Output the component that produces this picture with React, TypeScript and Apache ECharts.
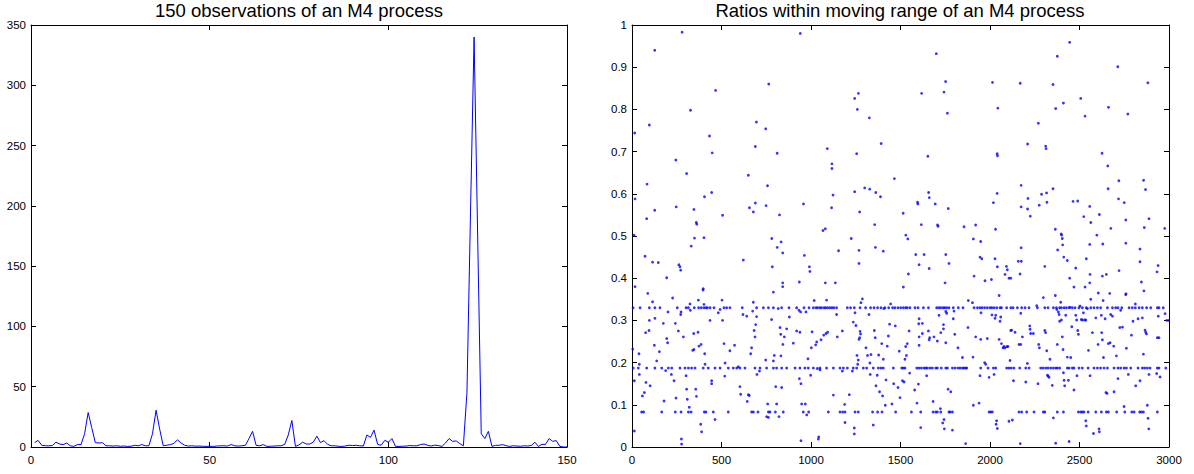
import React, { useEffect, useRef } from "react";
import * as echarts from "echarts";

const leftTitle = "150 observations of an M4 process";
const rightTitle = "Ratios within moving range of an M4 process";

// M4 process observations, x = 1..150
const obsValues = [
  3.6, 5.5, 1.4, 1, 1, 1.2, 4, 2.5, 2, 3.3, 1, 0.5, 2, 2, 11, 28.6, 16, 3.6, 3.3, 3.6,
  1, 1, 0.8, 1, 0.6, 0.8, 0.5, 0.6, 1.4, 1, 2, 1, 1, 11, 30.5, 15, 1, 1.5, 2, 3,
  6, 3.3, 1.4, 0.8, 1, 0.7, 0.8, 0.6, 0.5, 0.6, 0.5, 0.8, 1, 1, 0.8, 2, 1, 0.8, 1, 1.4,
  7, 13, 1.4, 1, 2, 0.5, 0.6, 0.8, 1, 1, 2.2, 10, 22, 0.5, 1.7, 4, 2.5, 2.5, 4, 9,
  3.6, 5.3, 2.2, 1, 1, 0.6, 0.5, 0.8, 1.5, 1.2, 1.4, 1, 0.8, 10, 8, 14, 2.2, 1.4, 5.5, 4,
  7, 0.5, 0.5, 0.6, 0.8, 1.2, 1, 1, 2, 2.5, 1.4, 0.8, 1.5, 1.2, 0.5, 3.3, 7, 4.7, 5, 2.8,
  1, 45, 195, 340, 175, 11, 7, 13, 0.5, 1.4, 1.4, 2, 1, 0.5, 1, 0.8, 0.6, 1, 0.8, 1.2,
  4, 0.5, 2.2, 2.2, 7, 4.7, 5.3, 0.5, 0, 0,
];

// ratio points lying on the three recurring levels
const levelHigh = 0.33;
const levelMid = 0.187;
const levelLow = 0.083;
const levelHighX = [
  6, 45, 97, 128, 156, 253, 302, 315, 348, 372, 387, 402, 413, 421, 436, 458, 514, 529, 547, 616,
  696, 734, 762, 790, 836, 877, 920, 961, 989, 1013, 1028, 1037, 1050, 1059, 1073, 1082, 1093, 1106, 1117, 1128,
  1143, 1203, 1221, 1242, 1274, 1305, 1333, 1352, 1372, 1391, 1413, 1434, 1456, 1469, 1486, 1501, 1516, 1529, 1538, 1553,
  1581, 1598, 1628, 1656, 1702, 1714, 1725, 1738, 1747, 1758, 1771, 1795, 1823, 1849, 1911, 1930, 1944, 1956, 1970, 1985,
  2000, 2010, 2023, 2038, 2056, 2064, 2093, 2116, 2129, 2153, 2177, 2196, 2218, 2265, 2306, 2324, 2354, 2371, 2389, 2399,
  2414, 2427, 2442, 2460, 2475, 2497, 2516, 2538, 2563, 2581, 2600, 2618, 2656, 2684, 2702, 2715, 2736, 2777, 2795, 2812,
  2833, 2851, 2875, 2898, 2935, 2944, 2968,
];
const levelMidX = [
  7, 35, 82, 128, 166, 203, 222, 268, 296, 315, 333, 352, 398, 426, 464, 492, 538, 566, 585, 603,
  631, 687, 715, 752, 790, 808, 836, 864, 911, 938, 966, 985, 1013, 1050, 1087, 1125, 1162, 1181, 1203, 1236,
  1255, 1292, 1311, 1348, 1376, 1391, 1404, 1460, 1507, 1516, 1525, 1591, 1604, 1617, 1632, 1641, 1650, 1665, 1678, 1697,
  1706, 1728, 1753, 1762, 1790, 1805, 1821, 1833, 1846, 1855, 1864, 1870, 1948, 1989, 2019, 2032, 2093, 2106, 2119, 2134,
  2166, 2200, 2218, 2283, 2296, 2311, 2324, 2339, 2354, 2367, 2376, 2389, 2432, 2442, 2460, 2469, 2497, 2516, 2548, 2581,
  2600, 2618, 2637, 2656, 2693, 2715, 2730, 2749, 2762, 2786, 2827, 2851, 2864, 2879, 2894, 2935, 2944, 2982,
];
const levelLowX = [
  54, 65, 166, 242, 274, 315, 330, 404, 413, 454, 538, 668, 678, 704, 762, 771, 801, 845, 957, 987,
  1097, 1162, 1177, 1190, 1246, 1264, 1344, 1372, 1397, 1473, 1561, 1613, 1682, 1697, 1706, 1725, 1771, 1777, 1790, 1995,
  2004, 2013, 2162, 2177, 2205, 2246, 2298, 2306, 2376, 2410, 2494, 2507, 2516, 2525, 2548, 2591, 2622, 2650, 2661, 2708,
  2753, 2792, 2805, 2836, 2846, 2857, 2935,
];

// scattered ratio points above about 0.47
const upperPoints = [
  [15, 0.744], [17, 0.588], [11, 0.502], [84, 0.623], [82, 0.541], [97, 0.763], [127, 0.94], [127, 0.561], [245, 0.68], [247, 0.569],
  [280, 0.983], [305, 0.648], [327, 0.798], [331, 0.476], [346, 0.563], [359, 0.532], [362, 0.528], [349, 0.495], [405, 0.593], [402, 0.496],
  [433, 0.737], [448, 0.697], [445, 0.603], [467, 0.845], [506, 0.549], [650, 0.644], [656, 0.567], [678, 0.557], [689, 0.578], [695, 0.77],
  [689, 0.712], [747, 0.754], [749, 0.572], [757, 0.619], [764, 0.86], [781, 0.494], [811, 0.696], [811, 0.473], [824, 0.55], [833, 0.486],
  [940, 0.98], [958, 0.576], [1067, 0.513], [1080, 0.517], [1091, 0.707], [1117, 0.671], [1117, 0.66], [1123, 0.597], [1115, 0.567], [1225, 0.494],
  [1244, 0.826], [1265, 0.838], [1259, 0.8], [1255, 0.695], [1244, 0.605], [1272, 0.557], [1326, 0.78], [1300, 0.614], [1328, 0.611], [1362, 0.603],
  [1388, 0.593], [1356, 0.527], [1360, 0.473], [1392, 0.719], [1466, 0.636], [1515, 0.554], [1530, 0.502], [1541, 0.493], [1595, 0.58], [1597, 0.576],
  [1616, 0.527], [1618, 0.838], [1653, 0.689], [1657, 0.603], [1661, 0.591], [1700, 0.932], [1694, 0.576], [1707, 0.526], [1710, 0.523], [1743, 0.841],
  [1752, 0.866], [1762, 0.791], [1767, 0.565], [1855, 0.522], [1920, 0.526], [1907, 0.493], [1948, 0.487], [2014, 0.864], [2019, 0.579], [2044, 0.803],
  [2040, 0.695], [2042, 0.69], [2040, 0.601], [2031, 0.516], [2169, 0.862], [2174, 0.62], [2174, 0.569], [2174, 0.472], [2210, 0.718], [2212, 0.589],
  [2210, 0.564], [2225, 0.547], [2270, 0.767], [2275, 0.573], [2288, 0.599], [2316, 0.602], [2318, 0.58], [2311, 0.713], [2313, 0.707], [2352, 0.859],
  [2376, 0.926], [2367, 0.802], [2410, 0.815], [2352, 0.612], [2365, 0.516], [2378, 0.467], [2398, 0.505], [2400, 0.502], [2404, 0.494], [2406, 0.479],
  [2445, 0.959], [2464, 0.582], [2490, 0.583], [2507, 0.826], [2531, 0.784], [2524, 0.546], [2557, 0.57], [2563, 0.532], [2557, 0.48], [2597, 0.502],
  [2611, 0.551], [2626, 0.696], [2630, 0.481], [2658, 0.666], [2660, 0.612], [2662, 0.805], [2675, 0.518], [2714, 0.901], [2720, 0.631], [2718, 0.588],
  [2750, 0.579], [2759, 0.538], [2759, 0.483], [2770, 0.789], [2838, 0.469], [2858, 0.632], [2869, 0.61], [2862, 0.52], [2888, 0.541], [2882, 0.863],
  [2976, 0.518],
];

// scattered ratio points below about 0.47
const lowerPoints = [
  [4, 0.232], [13, 0.157], [17, 0.38], [13, 0.038], [39, 0.221], [41, 0.172], [41, 0.196], [58, 0.121], [69, 0.129], [76, 0.271],
  [78, 0.153], [88, 0.364], [95, 0.276], [97, 0.3], [101, 0.145], [115, 0.344], [125, 0.241], [128, 0.305], [138, 0.204], [153, 0.226],
  [175, 0.293], [179, 0.109], [188, 0.181], [194, 0.257], [199, 0.247], [201, 0.32], [220, 0.172], [227, 0.353], [235, 0.157], [242, 0.293],
  [246, 0.116], [259, 0.275], [272, 0.314], [274, 0.32], [276, 0.019], [277, 0.007], [287, 0.261], [302, 0.169], [305, 0.137], [309, 0.113],
  [320, 0.094], [324, 0.339], [326, 0.324], [339, 0.229], [345, 0.269], [356, 0.137], [360, 0.12], [346, 0.231], [371, 0.348], [369, 0.272],
  [374, 0.239], [386, 0.243], [384, 0.054], [389, 0.036], [397, 0.372], [402, 0.338], [406, 0.221], [408, 0.196], [436, 0.3], [445, 0.157],
  [445, 0.15], [464, 0.065], [482, 0.318], [492, 0.326], [503, 0.348], [506, 0.3], [514, 0.245], [518, 0.168], [520, 0.199], [547, 0.228],
  [573, 0.241], [594, 0.19], [603, 0.143], [607, 0.125], [620, 0.314], [641, 0.31], [644, 0.108], [650, 0.124], [655, 0.122], [663, 0.221],
  [668, 0.235], [674, 0.322], [678, 0.343], [682, 0.276], [687, 0.261], [691, 0.29], [696, 0.309], [698, 0.172], [712, 0.18], [747, 0.206],
  [752, 0.072], [762, 0.07], [758, 0.102], [780, 0.302], [784, 0.427], [790, 0.367], [790, 0.204], [795, 0.217], [803, 0.143], [808, 0.102],
  [817, 0.328], [821, 0.072], [827, 0.283], [831, 0.267], [832, 0.216], [836, 0.141], [842, 0.389], [842, 0.38], [843, 0.243], [851, 0.261],
  [864, 0.28], [879, 0.308], [901, 0.246], [920, 0.275], [933, 0.324], [935, 0.391], [935, 0.162], [938, 0.272], [944, 0.015], [944, 0.15],
  [942, 0.32], [948, 0.102], [963, 0.454], [972, 0.32], [968, 0.102], [976, 0.076], [983, 0.209], [991, 0.427], [994, 0.416], [998, 0.17],
  [1002, 0.235], [1006, 0.273], [1018, 0.347], [1026, 0.242], [1032, 0.249], [1035, 0.186], [1041, 0.019], [1043, 0.024], [1050, 0.183], [1056, 0.254],
  [1071, 0.265], [1084, 0.269], [1087, 0.348], [1093, 0.272], [1080, 0.389], [1125, 0.123], [1136, 0.389], [1143, 0.314], [1147, 0.261], [1175, 0.18],
  [1175, 0.275], [1188, 0.101], [1190, 0.058], [1214, 0.124], [1231, 0.18], [1236, 0.296], [1242, 0.045], [1242, 0.031], [1246, 0.318], [1251, 0.288],
  [1257, 0.217], [1261, 0.196], [1264, 0.206], [1268, 0.435], [1268, 0.255], [1272, 0.259], [1274, 0.274], [1277, 0.268], [1279, 0.342], [1287, 0.351],
  [1307, 0.235], [1316, 0.217], [1324, 0.314], [1329, 0.199], [1331, 0.172], [1335, 0.219], [1348, 0.052], [1354, 0.276], [1359, 0.259], [1363, 0.145],
  [1370, 0.17], [1378, 0.218], [1383, 0.131], [1395, 0.245], [1400, 0.121], [1404, 0.208], [1407, 0.328], [1415, 0.099], [1419, 0.159], [1426, 0.239],
  [1432, 0.263], [1439, 0.291], [1445, 0.339], [1452, 0.102], [1462, 0.15], [1471, 0.287], [1486, 0.141], [1493, 0.227], [1497, 0.117], [73, 0.452],
  [115, 0.438], [147, 0.437], [194, 0.401], [262, 0.432], [268, 0.427], [272, 0.419], [398, 0.375], [622, 0.443], [842, 0.46], [1154, 0.465],
  [1268, 0.466], [1404, 0.464], [1511, 0.157], [1516, 0.379], [1520, 0.154], [1525, 0.208], [1529, 0.238], [1533, 0.217], [1538, 0.245], [1544, 0.41],
  [1548, 0.275], [1551, 0.175], [1579, 0.135], [1585, 0.456], [1592, 0.104], [1600, 0.149], [1602, 0.292], [1604, 0.304], [1604, 0.261], [1604, 0.241],
  [1613, 0.046], [1622, 0.293], [1622, 0.269], [1646, 0.169], [1656, 0.275], [1660, 0.254], [1663, 0.259], [1682, 0.108], [1687, 0.261], [1706, 0.251],
  [1715, 0.312], [1725, 0.271], [1723, 0.091], [1736, 0.057], [1740, 0.29], [1740, 0.28], [1743, 0.065], [1745, 0.043], [1749, 0.389], [1753, 0.247],
  [1753, 0.321], [1758, 0.317], [1766, 0.137], [1771, 0.435], [1781, 0.131], [1790, 0.04], [1795, 0.304], [1799, 0.322], [1803, 0.267], [1821, 0.235],
  [1846, 0.212], [1864, 0.008], [1877, 0.283], [1879, 0.347], [1902, 0.342], [1905, 0.213], [1907, 0.099], [1911, 0.405], [1920, 0.261], [1939, 0.104],
  [1944, 0.169], [1948, 0.255], [1950, 0.318], [1954, 0.446], [1970, 0.2], [1976, 0.196], [1985, 0.257], [1995, 0.165], [2011, 0.313], [2023, 0.172],
  [2028, 0.305], [2032, 0.312], [2041, 0.427], [2034, 0.054], [2037, 0.062], [2041, 0.044], [2051, 0.359], [2051, 0.255], [2056, 0.298], [2060, 0.308],
  [2064, 0.245], [2073, 0.235], [2078, 0.238], [2084, 0.235], [2084, 0.409], [2092, 0.428], [2095, 0.238], [2100, 0.238], [2106, 0.061], [2106, 0.4],
  [2112, 0.205], [2116, 0.276], [2121, 0.277], [2125, 0.064], [2131, 0.157], [2140, 0.272], [2162, 0.243], [2168, 0.41], [2172, 0.243], [2172, 0.317],
  [2175, 0.44], [2181, 0.261], [2200, 0.154], [2209, 0.198], [2222, 0.287], [2224, 0.279], [2227, 0.269], [2242, 0.269], [2261, 0.335], [2268, 0.15],
  [2272, 0.243], [2276, 0.235], [2298, 0.354], [2306, 0.276], [2311, 0.271], [2317, 0.228], [2321, 0.17], [2325, 0.168], [2330, 0.165], [2335, 0.208],
  [2348, 0.146], [2354, 0.069], [2365, 0.359], [2373, 0.326], [2376, 0.243], [2382, 0.32], [2386, 0.314], [2389, 0.298], [2395, 0.343], [2399, 0.301],
  [2404, 0.261], [2408, 0.231], [2410, 0.176], [2414, 0.158], [2417, 0.145], [2423, 0.312], [2432, 0.213], [2438, 0.158], [2447, 0.331], [2451, 0.212],
  [2457, 0.285], [2469, 0.135], [2479, 0.312], [2484, 0.301], [2486, 0.169], [2490, 0.276], [2494, 0.267], [2503, 0.334], [2510, 0.302], [2516, 0.301],
  [2522, 0.318], [2529, 0.301], [2535, 0.301], [2535, 0.062], [2538, 0.05], [2544, 0.328], [2550, 0.229], [2559, 0.169], [2563, 0.35], [2572, 0.271],
  [2578, 0.032], [2591, 0.306], [2604, 0.243], [2605, 0.365], [2609, 0.043], [2611, 0.036], [2622, 0.312], [2624, 0.271], [2628, 0.254], [2632, 0.347],
  [2634, 0.212], [2643, 0.304], [2648, 0.129], [2654, 0.127], [2661, 0.245], [2671, 0.247], [2674, 0.314], [2684, 0.31], [2691, 0.239], [2693, 0.131],
  [2706, 0.216], [2715, 0.162], [2725, 0.283], [2730, 0.324], [2740, 0.284], [2749, 0.096], [2760, 0.363], [2762, 0.234], [2773, 0.172], [2790, 0.265],
  [2799, 0.298], [2812, 0.339], [2814, 0.145], [2827, 0.304], [2838, 0.157], [2851, 0.306], [2857, 0.22], [2860, 0.37], [2866, 0.277], [2870, 0.272],
  [2874, 0.268], [2879, 0.099], [2883, 0.068], [2888, 0.172], [2887, 0.043], [2931, 0.174], [2935, 0.259], [2940, 0.31], [2944, 0.259], [2950, 0.166],
  [2978, 0.316], [2987, 0.3], [2998, 0.3], [1632, 0.456], [1753, 0.456], [1604, 0.432], [1660, 0.423], [1944, 0.45], [1972, 0.394], [2008, 0.397],
  [2028, 0.446], [2097, 0.42], [2116, 0.4], [2158, 0.44], [2306, 0.428], [2412, 0.45], [2432, 0.442], [2445, 0.4], [2469, 0.379], [2479, 0.424],
  [2538, 0.446], [2531, 0.379], [2559, 0.409], [2557, 0.389], [2628, 0.405], [2650, 0.409], [2669, 0.364], [2721, 0.418], [2758, 0.361], [2838, 0.439],
  [2846, 0.391], [2939, 0.43], [2933, 0.415], [2169, 0.008], [2367, 0.009], [2442, 0.013],
];

const FONT = "'Liberation Sans', Arial, Helvetica, sans-serif";
const BLUE = "#0000ff";

export default function App() {
  const ref = useRef<HTMLDivElement>(null);

  useEffect(() => {
    if (!ref.current) return;
    const chart = echarts.init(ref.current, undefined, { renderer: "svg" });

    const lineData = obsValues.map((v, i) => [i + 1, v]);
    const scatterData = [
      ...upperPoints,
      ...lowerPoints,
      ...levelHighX.map((x) => [x, levelHigh]),
      ...levelMidX.map((x) => [x, levelMid]),
      ...levelLowX.map((x) => [x, levelLow]),
    ];

    const fmt = (v: number) => String(Math.round(v * 1000) / 1000);
    const label = { color: "#000", fontFamily: FONT, fontSize: 11.5, formatter: fmt };
    const axisLine = { show: true, onZero: false, lineStyle: { color: "#000", width: 1 } };
    const tick = { show: true, inside: true, length: 5, lineStyle: { color: "#000", width: 1 } };

    const grids = [
      { left: 31, top: 25, width: 536, height: 422 },
      { left: 632, top: 25, width: 537, height: 422 },
    ];

    const xAx = (gi: number, min: number, max: number, interval: number, pos: "bottom" | "top") => ({
      type: "value",
      gridIndex: gi,
      position: pos,
      min,
      max,
      interval,
      axisLine,
      axisTick: tick,
      splitLine: { show: false },
      axisLabel: pos === "bottom" ? { ...label, margin: 7 } : { show: false },
    });
    const yAx = (gi: number, min: number, max: number, interval: number, pos: "left" | "right") => ({
      type: "value",
      gridIndex: gi,
      position: pos,
      min,
      max,
      interval,
      axisLine,
      axisTick: tick,
      splitLine: { show: false },
      axisLabel: pos === "left" ? { ...label, margin: 5 } : { show: false },
    });

    chart.setOption({
      animation: false,
      backgroundColor: "#fff",
      grid: grids,
      xAxis: [
        xAx(0, 0, 150, 50, "bottom"),
        xAx(0, 0, 150, 50, "top"),
        xAx(1, 0, 3000, 500, "bottom"),
        xAx(1, 0, 3000, 500, "top"),
      ],
      yAxis: [
        yAx(0, 0, 350, 50, "left"),
        yAx(0, 0, 350, 50, "right"),
        yAx(1, 0, 1, 0.1, "left"),
        yAx(1, 0, 1, 0.1, "right"),
      ],
      graphic: [
        {
          type: "text",
          x: 299,
          y: 1,
          style: { text: leftTitle, fontFamily: FONT, fontSize: 18.5, fill: "#000", textAlign: "center", textVerticalAlign: "top" },
        },
        {
          type: "text",
          x: 900,
          y: 1,
          style: { text: rightTitle, fontFamily: FONT, fontSize: 18.5, fill: "#000", textAlign: "center", textVerticalAlign: "top" },
        },
      ],
      series: [
        {
          type: "line",
          xAxisIndex: 0,
          yAxisIndex: 0,
          data: lineData,
          showSymbol: false,
          lineStyle: { color: BLUE, width: 1 },
          itemStyle: { color: BLUE },
        },
        {
          type: "scatter",
          xAxisIndex: 2,
          yAxisIndex: 2,
          data: scatterData,
          symbol: "circle",
          symbolSize: 2.8,
          itemStyle: { color: BLUE },
        },
      ],
    });

    return () => chart.dispose();
  }, []);

  return (
    <div
      ref={ref}
      style={{ position: "fixed", left: 0, top: 0, width: 1194, height: 474, background: "#fff" }}
    />
  );
}
